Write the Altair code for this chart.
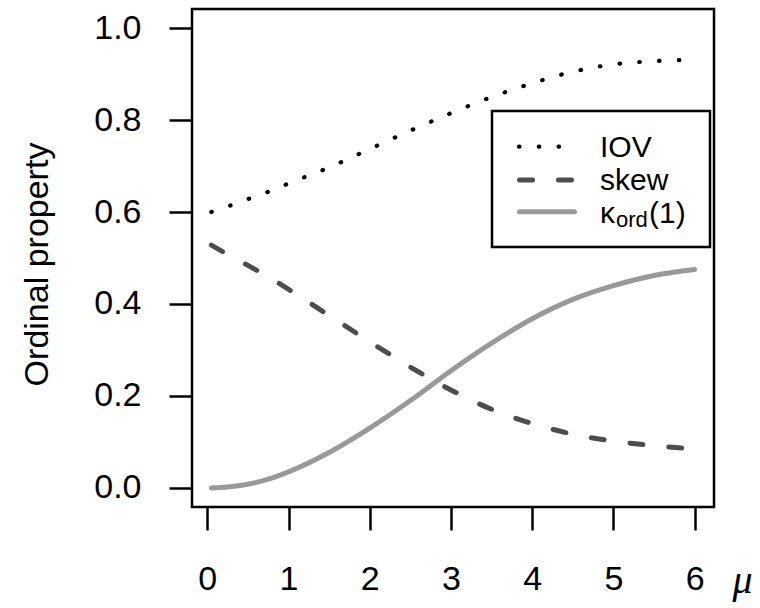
import altair as alt
import pandas as pd

# Ordinal properties as a function of the location parameter mu
mu = [0.05, 0.25, 0.5, 0.75, 1.0, 1.5, 2.0, 2.5, 3.0, 3.5, 4.0, 4.5, 5.0, 5.5, 6.0]
iov = [0.600, 0.612, 0.628, 0.644, 0.662, 0.697, 0.737, 0.777, 0.815, 0.850, 0.880, 0.905, 0.921, 0.928, 0.931]
skew = [0.528, 0.508, 0.484, 0.459, 0.432, 0.375, 0.318, 0.263, 0.213, 0.171, 0.140, 0.117, 0.102, 0.092, 0.085]
kappa = [0.000, 0.002, 0.008, 0.019, 0.035, 0.077, 0.130, 0.190, 0.255, 0.315, 0.368, 0.410, 0.440, 0.462, 0.475]

x_ticks = [0, 1, 2, 3, 4, 5, 6]
y_ticks = [0.0, 0.2, 0.4, 0.6, 0.8, 1.0]

n = len(mu)
df = pd.DataFrame({
    "mu": mu * 3,
    "value": iov + skew + kappa,
    "series": ["IOV"] * n + ["skew"] * n + ["kappa"] * n,
})

SANS = "Liberation Sans"
LW = 2.5

x_scale = alt.Scale(domain=[-0.188, 6.238], nice=False, zero=False)
y_scale = alt.Scale(domain=[-0.0414, 1.0414], nice=False, zero=False)

x_axis = alt.Axis(
    values=x_ticks, format="d", domain=False, grid=False,
    ticks=True, tickSize=23, tickWidth=LW, tickColor="black",
    labelFont=SANS, labelFontSize=34, labelColor="black", labelPadding=32,
    title="μ", titleFont="Liberation Serif", titleFontStyle="italic",
    titleFontWeight="normal", titleFontSize=40, titleColor="black",
    titleX=550, titleY=85, titleAlign="center", titleBaseline="alphabetic",
)
y_axis = alt.Axis(
    values=y_ticks, format=".1f", domain=False, grid=False,
    ticks=True, tickSize=23, tickWidth=LW, tickColor="black",
    labelFont=SANS, labelFontSize=34, labelColor="black", labelPadding=28,
    title="Ordinal property", titleFont=SANS, titleFontWeight="normal",
    titleFontSize=34, titleColor="black", titleAngle=270,
    titleX=-145, titleY=255, titleAlign="center", titleBaseline="alphabetic",
)

base = alt.Chart(df).encode(
    x=alt.X("mu:Q", scale=x_scale, axis=x_axis),
    y=alt.Y("value:Q", scale=y_scale, axis=y_axis),
)

DOT = dict(color="black", strokeWidth=4.2, strokeDash=[0.5, 19.3], strokeCap="round")
DASH = dict(color="#4d4d4d", strokeWidth=5, strokeDash=[13, 26], strokeCap="round")
SOLID = dict(color="#999999", strokeWidth=5, strokeCap="round")

iov_line = base.transform_filter(alt.datum.series == "IOV").mark_line(interpolate="monotone", **DOT)
skew_line = base.transform_filter(alt.datum.series == "skew").mark_line(interpolate="monotone", **DASH)
kappa_line = base.transform_filter(alt.datum.series == "kappa").mark_line(interpolate="monotone", **SOLID)

one = alt.Data(values=[{"k": 0}])

# legend box, key samples and labels (pixel positions inside the plot area)
legend_box = alt.Chart(one).mark_rect(fill="white", stroke="black", strokeWidth=LW).encode(
    x=alt.value(300), x2=alt.value(518), y=alt.value(102), y2=alt.value(238)
)


def key(style, x1, x2, y):
    return alt.Chart(one).mark_rule(**style).encode(
        x=alt.value(x1), x2=alt.value(x2), y=alt.value(y)
    )


def label(txt, x, y, size=30):
    return alt.Chart(one).mark_text(
        align="left", baseline="alphabetic", font=SANS, fontSize=size, color="black"
    ).encode(x=alt.value(x), y=alt.value(y), text=alt.value(txt))


legend = [
    legend_box,
    key(DOT, 327, 370, 137.7),
    key(DASH, 327.5, 383, 171),
    key(SOLID, 327.5, 382.5, 202.7),
    label("IOV", 408, 148),
    label("skew", 408, 181),
    label("κ", 408, 214),
    label("ord", 424, 218, size=22),
    label("(1)", 457, 214),
]

chart = alt.layer(kappa_line, skew_line, iov_line, *legend).properties(
    width=522,
    height=498,
    padding={"left": 192, "top": 9, "right": 46, "bottom": 101},
    autosize=alt.AutoSizeParams(type="none"),
).configure_view(stroke="black", strokeWidth=LW)

chart.save("out.html", embed_options={"renderer": "svg", "actions": False})
